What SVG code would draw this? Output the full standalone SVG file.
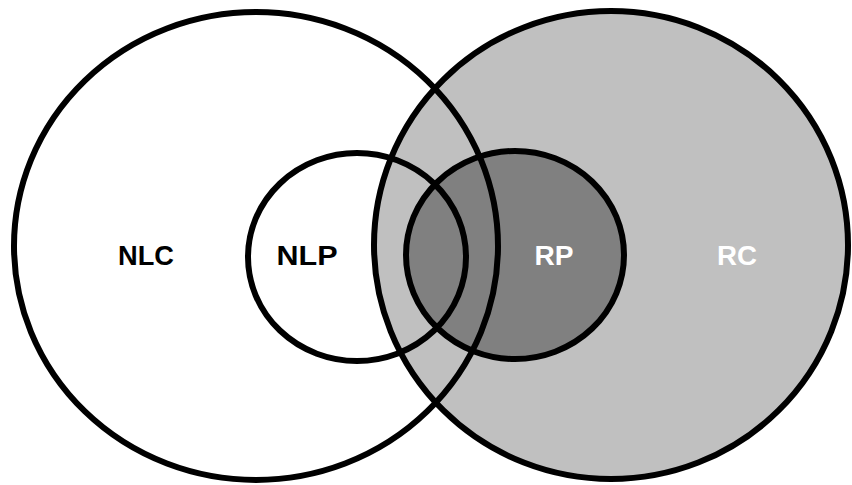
<svg xmlns="http://www.w3.org/2000/svg" width="852" height="485" viewBox="0 0 852 485">
<style>
.ring{fill:none;stroke:#000;stroke-width:6}
.lbl{font-family:"Liberation Sans",Arial,sans-serif;font-weight:bold;font-size:27px;text-anchor:middle}
</style>
<rect width="852" height="485" fill="#fff"/>
<g id="fills">
<ellipse cx="611" cy="245" rx="237" ry="234" fill="#c0c0c0"/>
<ellipse cx="515" cy="255" rx="109" ry="104" fill="#808080"/>
</g>
<g id="NLC"><ellipse class="ring" cx="256" cy="246" rx="242" ry="234"/><text class="lbl" x="146" y="265" fill="#000" textLength="56" lengthAdjust="spacingAndGlyphs">NLC</text></g>
<g id="NLP"><ellipse class="ring" cx="357" cy="257" rx="109" ry="104"/><text class="lbl" x="307" y="265" fill="#000" textLength="61" lengthAdjust="spacingAndGlyphs">NLP</text></g>
<g id="RC"><ellipse class="ring" cx="611" cy="245" rx="237" ry="234"/><text class="lbl" x="737" y="265" fill="#fff" textLength="40" lengthAdjust="spacingAndGlyphs">RC</text></g>
<g id="RP"><ellipse class="ring" cx="515" cy="255" rx="109" ry="104"/><text class="lbl" x="554" y="265" fill="#fff" textLength="39" lengthAdjust="spacingAndGlyphs">RP</text></g>
<g id="connectors"/>
</svg>
